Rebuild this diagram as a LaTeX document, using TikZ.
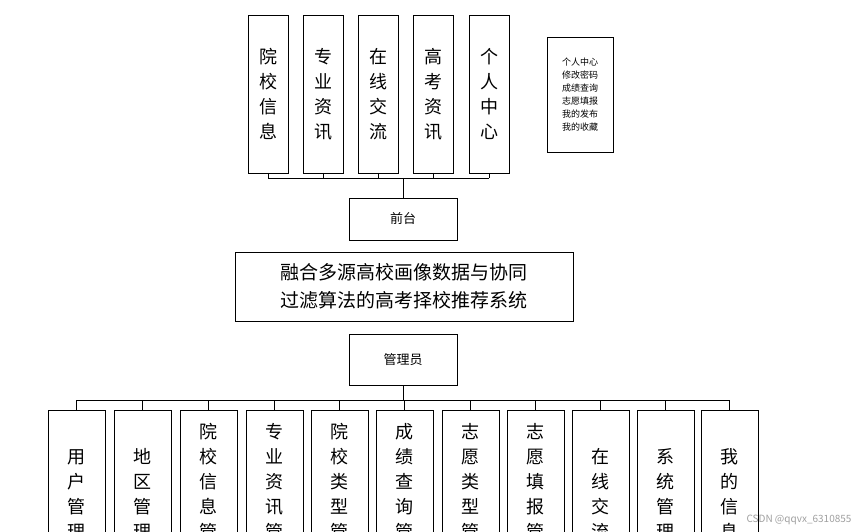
\documentclass[tikz,border=0pt]{standalone}
\usepackage{fontspec}
\setmainfont{Noto Sans CJK SC}
\begin{document}
\begin{tikzpicture}
  [x=1pt,y=-1pt,
   vbox/.style={rectangle,draw=black,thick,align=center,inner sep=0,
                  outer sep=0,anchor=north west,font=\fontsize{18}{25}\selectfont},
   hbox/.style={rectangle,draw=black,thick,align=center,inner sep=0,
                  outer sep=0,anchor=north west},
   wire/.style={draw=black,thick}]
  \useasboundingbox (0,0) rectangle (857,532);
  \clip (0,0) rectangle (857,532);
  % top row
  \node[vbox,minimum width=40pt,minimum height=158pt] (yxxx) at (248,15) {院\\校\\信\\息};
  \node[vbox,minimum width=40pt,minimum height=158pt] (zyzx) at (303,15) {专\\业\\资\\讯};
  \node[vbox,minimum width=40pt,minimum height=158pt] (zxjl) at (358,15) {在\\线\\交\\流};
  \node[vbox,minimum width=40pt,minimum height=158pt] (gkzx) at (413,15) {高\\考\\资\\讯};
  \node[vbox,minimum width=40pt,minimum height=158pt] (grzx) at (469,15) {个\\人\\中\\心};
  \node[hbox,minimum width=66pt,minimum height=115pt,font=\fontsize{9}{13}\selectfont] (menu) at (547,37)
    {个人中心\\修改密码\\成绩查询\\志愿填报\\我的发布\\我的收藏};
  \node[hbox,minimum width=108pt,minimum height=42pt,font=\fontsize{13}{16}\selectfont] (front) at (349,198) {前台};
  \node[hbox,minimum width=338pt,minimum height=69pt,font=\fontsize{19}{28}\selectfont] (sys) at (235,252)
    {融合多源高校画像数据与协同\\过滤算法的高考择校推荐系统};
  \node[hbox,minimum width=108pt,minimum height=51pt,font=\fontsize{13}{16}\selectfont] (admin) at (349,334) {管理员};
  \coordinate (topbus) at (0,178);
  \foreach \n in {yxxx,zyzx,zxjl,gkzx,grzx}
    \draw[wire] (\n.south) -- (\n.south |- topbus);
  \draw[wire] (yxxx.south |- topbus) -- (grzx.south |- topbus);
  \draw[wire] (front.north |- topbus) -- (front.north);
  % bottom row
  \coordinate (botbus) at (0,400);
  \foreach \x/\n/\t in {48/b1/{用\\户\\管\\理},114/b2/{地\\区\\管\\理},180/b3/{院\\校\\信\\息\\管\\理},
      246/b4/{专\\业\\资\\讯\\管\\理},311/b5/{院\\校\\类\\型\\管\\理},376/b6/{成\\绩\\查\\询\\管\\理},
      442/b7/{志\\愿\\类\\型\\管\\理},507/b8/{志\\愿\\填\\报\\管\\理},572/b9/{在\\线\\交\\流},
      637/b10/{系\\统\\管\\理},701/b11/{我\\的\\信\\息}}
  {
    \node[vbox,minimum width=57pt,minimum height=170pt] (\n) at (\x,410) {};
    \node[align=center,font=\fontsize{18}{25}\selectfont,inner sep=0] at (\x+28.5,494) {\t};
    \draw[wire] (\n.north) -- (\n.north |- botbus);
  }
  \draw[wire] (b1.north |- botbus) -- (b11.north |- botbus);
  \draw[wire] (admin.south) -- (admin.south |- botbus);
  \node[anchor=south east,text=gray!75,font=\fontsize{10}{12}\selectfont] (mark) at (855,528) {CSDN @qqvx\_6310855};
\end{tikzpicture}
\end{document}
